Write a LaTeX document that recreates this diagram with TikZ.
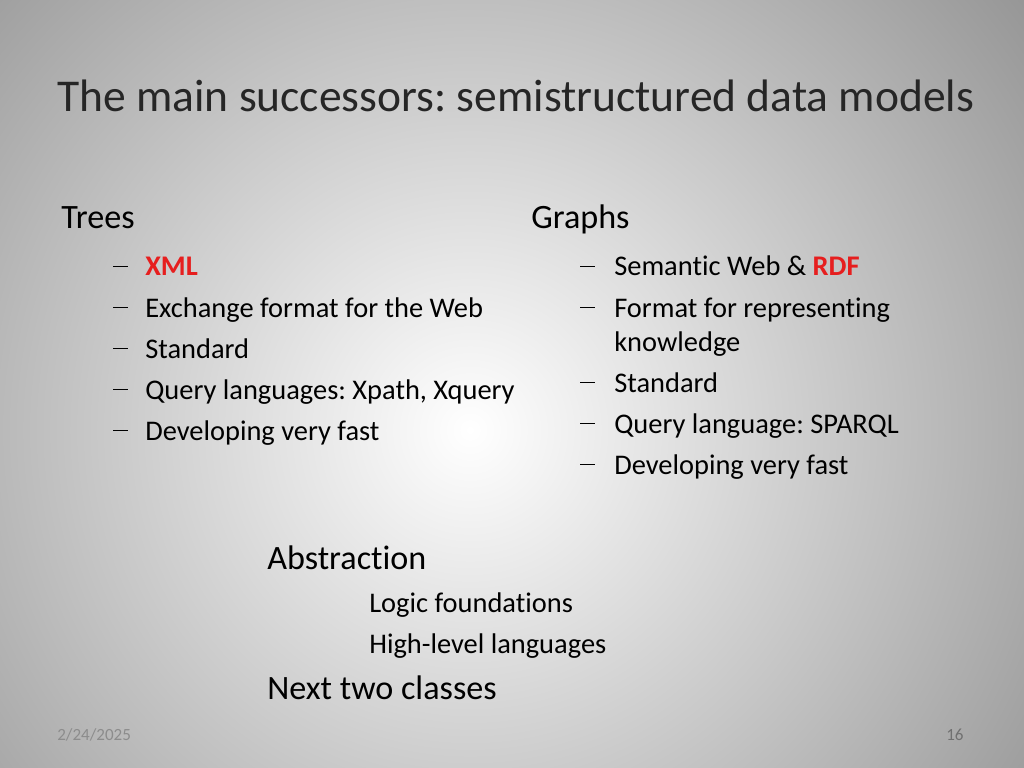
\documentclass[tikz,border=0pt]{standalone}
\usepackage{fontspec}
\setmainfont{Carlito}[Ligatures={NoCommon}]
\usepackage{xcolor}
\definecolor{accent}{RGB}{230,30,30}
\definecolor{foot}{RGB}{140,140,140}
\frenchspacing

\tikzset{
  txt/.style={anchor=base west, inner sep=0pt},
  head/.style={txt, font=\fontsize{24}{28}\selectfont},
  item/.style={txt, font=\fontsize{20}{24}\selectfont},
}
\newcommand{\itemdash}{\rule[0.32em]{0.5em}{0.6pt}}

\begin{document}
\begin{tikzpicture}[x=0.703125pt, y=-0.703125pt]
        % background
        \useasboundingbox (0,0) rectangle (1024,768);
        \clip (0,0) rectangle (1024,768);
        \shade [inner color=white, outer color=black!42] (470,430) circle [radius=720];

        % Title
        \node [txt, font=\fontsize{32}{38}\selectfont, text=black!85] (title) at (57,112) {The main successors: semistructured data models};

        % Trees
        \node [head] (trees) at (61,229) {Trees};
        \node [item] (t1d) at (113,276) {\itemdash};
        \node [item, text=accent, font=\fontsize{20}{24}\selectfont\bfseries] (t1) at (145,276) {XML};
        \node [item] (t2d) at (113,317) {\itemdash};
        \node [item] (t2) at (145,317) {Exchange format for the Web};
        \node [item] (t3d) at (113,358) {\itemdash};
        \node [item] (t3) at (145,358) {Standard};
        \node [item] (t4d) at (113,399) {\itemdash};
        \node [item] (t4) at (145,399) {Query languages: Xpath, Xquery};
        \node [item] (t5d) at (113,440) {\itemdash};
        \node [item] (t5) at (145,440) {Developing very fast};

        % Graphs
        \node [head] (graphs) at (531,229) {Graphs};
        \node [item] (g1d) at (580,276) {\itemdash};
        \node [item] (g1) at (614,276) {Semantic Web \& \textcolor{accent}{\bfseries RDF}};
        \node [item] (g2d) at (580,317) {\itemdash};
        \node [item] (g2) at (614,317) {Format for representing};
        \node [item] (g2b) at (614,351) {knowledge};
        \node [item] (g3d) at (580,392) {\itemdash};
        \node [item] (g3) at (614,392) {Standard};
        \node [item] (g4d) at (580,433) {\itemdash};
        \node [item] (g4) at (614,433) {Query language: SPARQL};
        \node [item] (g5d) at (580,474) {\itemdash};
        \node [item] (g5) at (614,474) {Developing very fast};

        % Abstraction
        \node [head] (abs) at (267,569) {Abstraction};
        \node [item] (logic) at (369,612) {Logic foundations};
        \node [item] (high) at (369,653) {High-level languages};
        \node [head] (next) at (267,699) {Next two classes};

        % Footer
        \node [txt, font=\fontsize{12}{14}\selectfont, text=foot] (date) at (57,740) {2/24/2025};
        \node [txt, font=\fontsize{12}{14}\selectfont, text=foot!80!black] (page) at (946,740) {16};
\end{tikzpicture}
\end{document}
